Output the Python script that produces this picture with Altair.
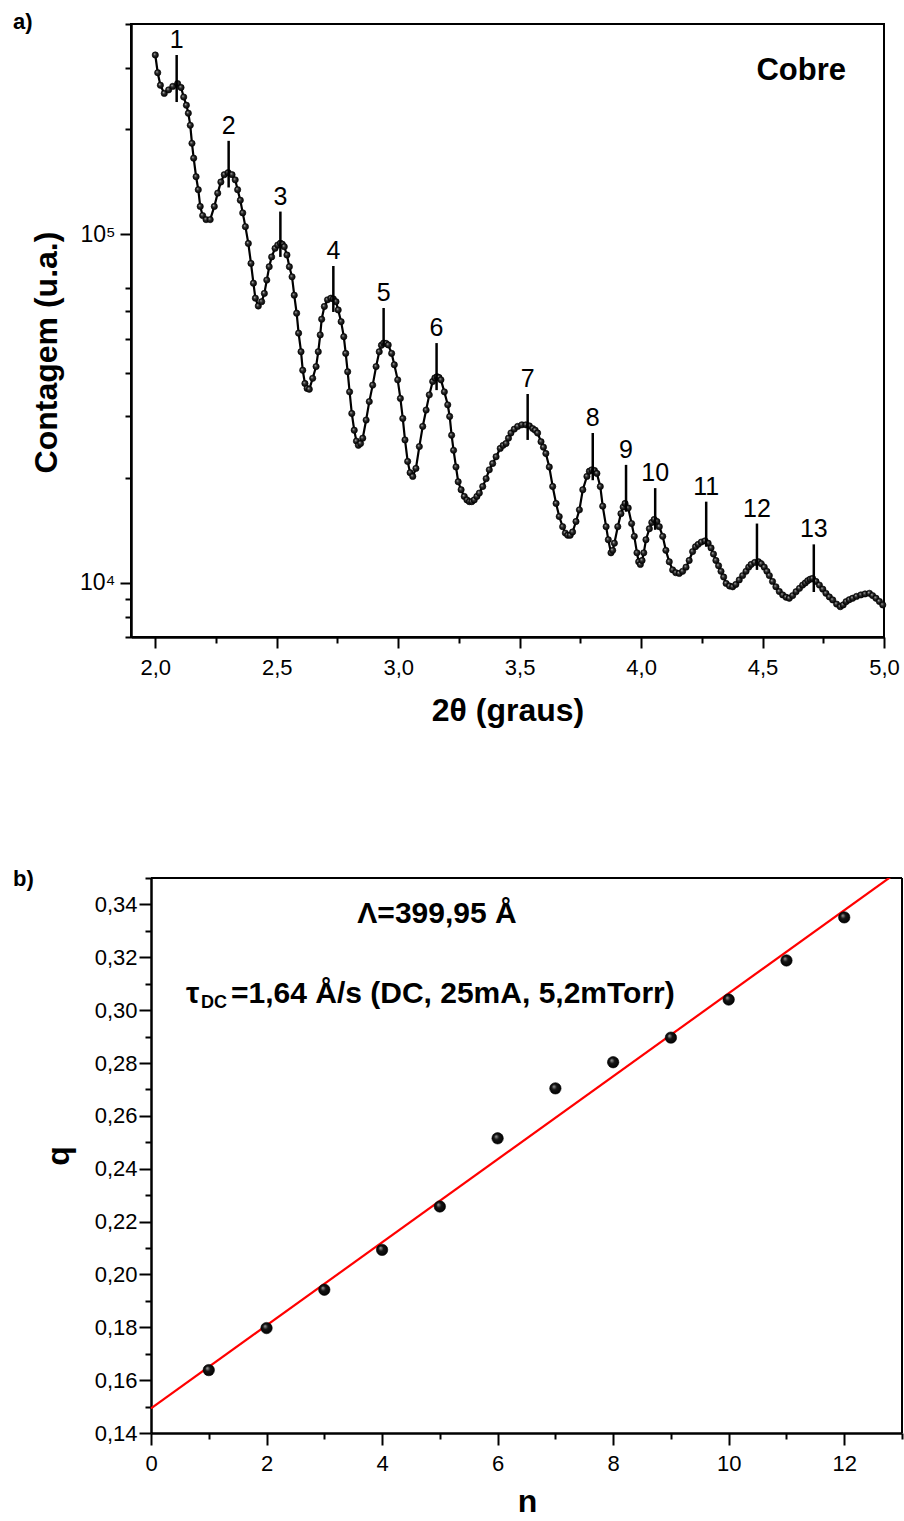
import altair as alt
import pandas as pd

# ---------------- Panel a: reflectivity curve ----------------
two_theta = [
    2.000, 2.010, 2.021, 2.037, 2.055, 2.072, 2.092, 2.106, 2.117, 2.128,
    2.136, 2.144, 2.151, 2.158, 2.168, 2.177, 2.185, 2.195, 2.209, 2.226,
    2.243, 2.257, 2.270, 2.284, 2.300, 2.316, 2.329, 2.339, 2.350, 2.360,
    2.371, 2.383, 2.394, 2.404, 2.412, 2.424, 2.438, 2.449, 2.459, 2.469,
    2.479, 2.493, 2.504, 2.515, 2.523, 2.531, 2.542, 2.552, 2.563, 2.572,
    2.582, 2.590, 2.600, 2.607, 2.616, 2.625, 2.634, 2.648, 2.662, 2.671,
    2.679, 2.685, 2.696, 2.709, 2.723, 2.733, 2.744, 2.753, 2.765, 2.776,
    2.784, 2.792, 2.800, 2.809, 2.819, 2.828, 2.836, 2.845, 2.854, 2.868,
    2.881, 2.895, 2.909, 2.922, 2.931, 2.940, 2.950, 2.959, 2.973, 2.984,
    2.998, 3.009, 3.019, 3.028, 3.039, 3.049, 3.060, 3.073, 3.087, 3.101,
    3.115, 3.128, 3.142, 3.151, 3.160, 3.168, 3.176, 3.190, 3.204, 3.212,
    3.220, 3.228, 3.238, 3.247, 3.259, 3.272, 3.283, 3.293, 3.303, 3.313,
    3.324, 3.334, 3.348, 3.362, 3.375, 3.389, 3.403, 3.420, 3.432, 3.444,
    3.454, 3.464, 3.478, 3.492, 3.509, 3.526, 3.540, 3.554, 3.564, 3.574,
    3.588, 3.598, 3.608, 3.622, 3.636, 3.650, 3.663, 3.677, 3.688, 3.698,
    3.708, 3.718, 3.732, 3.746, 3.760, 3.777, 3.787, 3.797, 3.808, 3.818,
    3.832, 3.842, 3.856, 3.865, 3.876, 3.883, 3.890, 3.904, 3.917, 3.926,
    3.934, 3.947, 3.961, 3.972, 3.983, 3.990, 3.997, 4.004, 4.011, 4.020,
    4.034, 4.044, 4.054, 4.065, 4.075, 4.089, 4.102, 4.116, 4.130, 4.143,
    4.157, 4.171, 4.185, 4.198, 4.212, 4.224, 4.235, 4.248, 4.263, 4.276,
    4.288, 4.298, 4.308, 4.319, 4.329, 4.340, 4.350, 4.364, 4.377, 4.390,
    4.404, 4.418, 4.432, 4.443, 4.453, 4.468, 4.483, 4.495, 4.507, 4.518,
    4.528, 4.541, 4.555, 4.569, 4.583, 4.597, 4.610, 4.624, 4.638, 4.652,
    4.665, 4.676, 4.686, 4.696, 4.706, 4.720, 4.734, 4.748, 4.761, 4.775,
    4.789, 4.805, 4.820, 4.832, 4.844, 4.857, 4.871, 4.887, 4.905, 4.922,
    4.940, 4.953, 4.967, 4.981, 4.995,
]
counts = [
    326000, 290000, 267000, 253000, 259000, 265000, 270000, 263000, 247000, 234000,
    222000, 205000, 182000, 165000, 146000, 134000, 120000, 113000, 110000, 110000,
    120000, 131000, 141000, 148000, 150000, 148000, 143000, 134000, 125000, 115000,
    105000, 94000, 82400, 72300, 65500, 62200, 64000, 67600, 73800, 80600,
    86000, 91000, 93000, 94100, 93500, 92000, 87100, 80600, 75400, 66800,
    59300, 52000, 46000, 40700, 37300, 36100, 35900, 38600, 41700, 46000,
    51400, 57000, 62000, 64800, 65500, 65200, 64000, 60600, 56100, 50800,
    45500, 40300, 35300, 30600, 27400, 25500, 24800, 25100, 26000, 29300,
    33100, 36900, 41700, 46000, 48000, 48700, 48600, 48100, 45500, 42200,
    38200, 33800, 29600, 25700, 22300, 20700, 20200, 21300, 24600, 28100,
    31300, 34600, 37800, 38700, 39000, 38800, 38200, 35300, 32400, 30000,
    26500, 24000, 21500, 19500, 18500, 17700, 17300, 17100, 17100, 17300,
    17700, 18100, 18900, 19900, 21100, 22000, 23000, 24300, 24800, 25100,
    26000, 26900, 27600, 28100, 28400, 28400, 28200, 27700, 27400, 26900,
    25400, 24500, 23500, 21500, 18900, 16900, 15500, 14500, 13900, 13700,
    13700, 14000, 15000, 16200, 18500, 20200, 20900, 21100, 21000, 20600,
    18900, 16600, 14500, 13300, 12200, 12400, 13000, 14500, 15800, 16500,
    16900, 16400, 14800, 13600, 12200, 11500, 11300, 11600, 12200, 13300,
    14300, 14900, 15200, 15000, 14500, 13600, 12400, 11500, 10900, 10700,
    10650, 10800, 11100, 11600, 12300, 12700, 12900, 13100, 13200, 13000,
    12600, 12100, 11600, 11200, 10800, 10400, 9970, 9800, 9750, 9900,
    10200, 10500, 10800, 11100, 11300, 11450, 11500, 11350, 11100, 10800,
    10500, 10100, 9750, 9450, 9240, 9100, 9040, 9200, 9440, 9650,
    9860, 10000, 10150, 10250, 10300, 10100, 9860, 9600, 9340, 9120,
    8940, 8700, 8550, 8650, 8840, 8950, 9040, 9150, 9240, 9300,
    9340, 9200, 9040, 8850, 8650,
]

peak_labels = ["1", "2", "3", "4", "5", "6", "7", "8", "9", "10", "11", "12", "13"]
peak_pos = [2.088, 2.302, 2.515, 2.733, 2.940, 3.158, 3.533, 3.801, 3.938, 4.058, 4.268, 4.477, 4.711]
peak_top = [326000, 185000, 116000, 81000, 61400, 48700, 34800, 26900, 21800, 18700, 17100, 14800, 12900]
peak_bottom = [239000, 136000, 86000, 59800, 48100, 35700, 25700, 19700, 16000, 14200, 12700, 10900, 9420]

a_x_domain = [1.9, 5.0]
a_y_domain = [7000, 400000]
a_x_ticks = [2.0, 2.25, 2.5, 2.75, 3.0, 3.25, 3.5, 3.75, 4.0, 4.25, 4.5, 4.75, 5.0]
a_y_ticks = [7000, 8000, 9000, 10000, 20000, 30000, 40000, 50000, 60000, 70000,
             100000, 200000, 300000, 400000]

# ---------------- Panel b: q versus n ----------------
n_values = [1, 2, 3, 4, 5, 6, 7, 8, 9, 10, 11, 12]
q_values = [0.1638, 0.1797, 0.1942, 0.2093, 0.2257, 0.2515, 0.2704, 0.2803, 0.2896, 0.3040, 0.3188, 0.3351]
fit_n = [0, 13]
fit_q = [0.1493, 0.3535]
b_x_domain = [0, 13]
b_y_domain = [0.14, 0.35]
b_x_ticks = [0, 1, 2, 3, 4, 5, 6, 7, 8, 9, 10, 11, 12, 13]
b_y_ticks = [0.14, 0.15, 0.16, 0.17, 0.18, 0.19, 0.20, 0.21, 0.22, 0.23, 0.24,
             0.25, 0.26, 0.27, 0.28, 0.29, 0.30, 0.31, 0.32, 0.33, 0.34, 0.35]

FONT = "Liberation Sans"
BLACK = "#000000"


def sphere(light, mid):
    return {
        "gradient": "radial",
        "x1": 0.35, "y1": 0.32, "r1": 0.0,
        "x2": 0.5, "y2": 0.5, "r2": 0.55,
        "stops": [
            {"offset": 0.0, "color": light},
            {"offset": 0.4, "color": mid},
            {"offset": 1.0, "color": "#000000"},
        ],
    }


# ---------- panel a ----------
df_a = pd.DataFrame({"x": two_theta, "y": counts})
df_pk = pd.DataFrame({"x": peak_pos, "y": peak_top, "y2": peak_bottom, "lab": peak_labels})

major_a = "abs(datum.value*2 - round(datum.value*2)) < 0.01"
xa_scale = alt.Scale(domain=a_x_domain, nice=False, zero=False)
xa_axis = alt.Axis(
    values=a_x_ticks, title="2θ (graus)",
    labelExpr=f"{major_a} ? replace(format(datum.value, '.1f'), '.', ',') : ''",
    tickSize={"condition": {"test": major_a, "value": 11}, "value": 6},
    labelFlush=False, labelOverlap=False, labelPadding=9, labelFontSize=22,
    titleFontSize=32, titleY=83, titleBaseline="alphabetic",
)
ya_scale = alt.Scale(type="log", domain=a_y_domain, nice=False)
major_ya = "datum.value == 10000 || datum.value == 100000"
ya_axis = alt.Axis(
    values=a_y_ticks, title="Contagem (u.a.)",
    labelExpr="datum.value == 10000 ? '10⁴' : (datum.value == 100000 ? '10⁵' : '')",
    tickSize={"condition": {"test": major_ya, "value": 11}, "value": 6},
    labelOverlap=False, labelPadding=5, labelFontSize=23,
    titleFontSize=32, titleX=-75, titleY=328, titleBaseline="alphabetic",
)


def XA(f):
    return alt.X(f, type="quantitative", scale=xa_scale, axis=xa_axis)


def YA(f):
    return alt.Y(f, type="quantitative", scale=ya_scale, axis=ya_axis)


line_a = alt.Chart(df_a).mark_line(color=BLACK, strokeWidth=2.2).encode(x=XA("x"), y=YA("y"))
pts_a = alt.Chart(df_a).mark_circle(
    size=40, fill=sphere("#bfbfbf", "#2e2e2e"), stroke=BLACK, strokeWidth=0.6, opacity=1
).encode(x=XA("x"), y=YA("y"))
rules_a = alt.Chart(df_pk).mark_rule(color=BLACK, strokeWidth=2.5).encode(
    x=XA("x"), y=YA("y"), y2=alt.Y2("y2"))
plabels_a = alt.Chart(df_pk).mark_text(font=FONT, fontSize=25, color=BLACK, baseline="alphabetic", dy=-7).encode(
    x=XA("x"), y=YA("y"), text="lab:N")


def label(text, x, y, size, align="left", weight="bold"):
    return alt.Chart(pd.DataFrame({"t": [text]})).mark_text(
        font=FONT, fontSize=size, fontWeight=weight, color=BLACK, align=align, baseline="alphabetic"
    ).encode(text="t:N", x=alt.value(x), y=alt.value(y))


cobre = label("Cobre", 715, 56, 31, align="right")
tag_a = label("a)", -118, 5, 22)

panel_a = alt.layer(line_a, pts_a, rules_a, plabels_a, cobre, tag_a).properties(width=753, height=613)

# ---------- panel b ----------
df_b = pd.DataFrame({"x": n_values, "y": q_values})
df_fit = pd.DataFrame({"x": fit_n, "y": fit_q})
df_top = pd.DataFrame({"x": [b_x_domain[0]], "x2": [b_x_domain[1]], "y": [b_y_domain[1]]})
df_right = pd.DataFrame({"x": [b_x_domain[1]], "y": [b_y_domain[0]], "y2": [b_y_domain[1]]})

# the plot area of panel b starts 20 px to the right of panel a's
xb_scale = alt.Scale(domain=b_x_domain, range=[20, 771], nice=False, zero=False)
major_xb = "datum.value % 2 == 0"
xb_axis = alt.Axis(
    values=b_x_ticks, title="n",
    labelExpr=f"{major_xb} ? format(datum.value, 'd') : ''",
    tickSize={"condition": {"test": major_xb, "value": 12}, "value": 6},
    labelFlush=False, labelOverlap=False, labelPadding=8, labelFontSize=22,
    titleFontSize=32, titleX=396, titleY=78, titleBaseline="alphabetic",
)
yb_scale = alt.Scale(domain=b_y_domain, nice=False, zero=False)
major_yb = "round(datum.value*100) % 2 == 0"
yb_axis = alt.Axis(
    values=b_y_ticks, title="q", offset=-20,
    labelExpr=f"{major_yb} ? replace(format(datum.value, '.2f'), '.', ',') : ''",
    tickSize={"condition": {"test": major_yb, "value": 12}, "value": 6},
    labelOverlap=False, labelPadding=2, labelFontSize=22,
    titleFontSize=32, titleX=-83, titleBaseline="alphabetic",
)


def XB(f):
    return alt.X(f, type="quantitative", scale=xb_scale, axis=xb_axis)


def YB(f):
    return alt.Y(f, type="quantitative", scale=yb_scale, axis=yb_axis)


frame_top = alt.Chart(df_top).mark_rule(color=BLACK, strokeWidth=2).encode(x=XB("x"), x2=alt.X2("x2"), y=YB("y"))
frame_right = alt.Chart(df_right).mark_rule(color=BLACK, strokeWidth=2).encode(x=XB("x"), y=YB("y"), y2=alt.Y2("y2"))
fit_b = alt.Chart(df_fit).mark_line(color="#ff0000", strokeWidth=2.2, clip=True).encode(x=XB("x"), y=YB("y"))
pts_b = alt.Chart(df_b).mark_circle(
    size=130, fill=sphere("#a8a8a8", "#151515"), stroke=BLACK, strokeWidth=0.6, opacity=1
).encode(x=XB("x"), y=YB("y"))

lam = label("Λ=399,95 Å", 306, 45, 30, align="center")
tau = label("τ", 55, 125, 30)
tau_sub = label("DC", 70, 130, 18)
tau_txt = label("=1,64 Å/s (DC, 25mA, 5,2mTorr)", 100, 125, 30)
tag_b = label("b)", -118, 8, 22)

panel_b = alt.layer(frame_top, frame_right, fit_b, pts_b, lam, tau, tau_sub, tau_txt, tag_b).properties(
    width=771, height=555, view=alt.ViewBackground(stroke="transparent"))

chart = alt.vconcat(panel_a, panel_b, spacing=241, bounds="flush").properties(
    padding={"left": 12, "top": 10, "right": 0, "bottom": 0},
    background="white",
).configure_view(
    stroke=BLACK, strokeWidth=2
).configure_axis(
    domainColor=BLACK, domainWidth=2.5, tickColor=BLACK, tickWidth=2,
    labelColor=BLACK, titleColor=BLACK, labelFont=FONT, titleFont=FONT,
    titleFontWeight="bold", grid=False,
)

chart.save("out.html", embed_options={"renderer": "svg", "actions": False})
